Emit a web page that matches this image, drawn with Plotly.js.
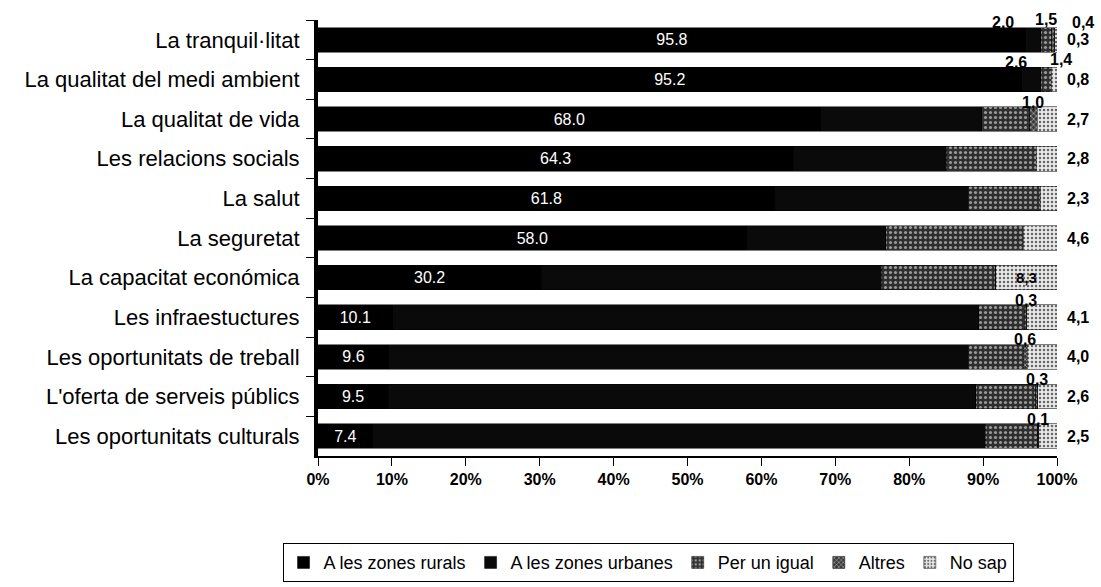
<!DOCTYPE html>
<html>
<head>
<meta charset="utf-8">
<script src="https://cdn.plot.ly/plotly-3.0.1.min.js"></script>
<style>html,body{margin:0;padding:0;background:#fff;}#chart{width:1101px;height:587px;}</style>
</head>
<body>
<div id="chart"></div>
<script>
const categories = ["La tranquil·litat","La qualitat del medi ambient","La qualitat de vida","Les relacions socials","La salut","La seguretat","La capacitat económica","Les infraestuctures","Les oportunitats de treball","L'oferta de serveis públics","Les oportunitats culturals"];
const rurals   = [95.8, 95.2, 68.0, 64.3, 61.8, 58.0, 30.2, 10.1, 9.6, 9.5, 7.4];
const urbanes  = [2.0, 2.6, 21.8, 20.7, 26.2, 18.8, 46.0, 79.3, 78.4, 79.5, 82.9];
const igual    = [1.5, 1.4, 6.5, 12.2, 9.7, 18.6, 15.5, 6.2, 7.4, 8.1, 7.1];
const altres   = [0.4, 0.0, 1.0, 0.0, 0.0, 0.0, 0.0, 0.3, 0.6, 0.3, 0.1];
const noSap    = [0.3, 0.8, 2.7, 2.8, 2.3, 4.6, 8.3, 4.1, 4.0, 2.6, 2.5];
const seriesNames = ["A les zones rurals","A les zones urbanes","Per un igual","Altres","No sap"];
const xTicks = [0,10,20,30,40,50,60,70,80,90,100];
const xTickLabels = ["0%","10%","20%","30%","40%","50%","60%","70%","80%","90%","100%"];

const FONT = "Liberation Sans, Arial, sans-serif";
const comma = v => v.toFixed(1).replace('.', ',');

const traces = [
  {name: seriesNames[0], x: rurals, marker:{color:'#000', line:{color:'#000', width:0.5}},
   texttemplate:'%{x:.1f}', textposition:'inside', insidetextanchor:'middle',
   textfont:{color:'#fff', size:16, family:FONT}, constraintext:'none', textangle:0},
  {name: seriesNames[1], x: urbanes, marker:{color:'#0a0a0a', line:{color:'#000', width:0.5}}, textposition:'none'},
  {name: seriesNames[2], x: igual, marker:{color:'#333', pattern:{shape:'.', bgcolor:'#2e2e2e', fgcolor:'#9a9a9a', size:5, solidity:0.3, fillmode:'replace'}, line:{color:'#000', width:0.5}}, textposition:'none'},
  {name: seriesNames[3], x: altres, marker:{color:'#444', pattern:{shape:'x', bgcolor:'#3a3a3a', fgcolor:'#bbbbbb', size:4, solidity:0.3, fillmode:'replace'}, line:{color:'#000', width:0.5}}, textposition:'none'},
  {name: seriesNames[4], x: noSap, marker:{color:'#ddd', pattern:{shape:'.', bgcolor:'#e8e8e8', fgcolor:'#666666', size:4, solidity:0.3, fillmode:'replace'}, line:{color:'#000', width:0.5}}, textposition:'none'}
].map(t => Object.assign({type:'bar', orientation:'h', y:categories, hoverinfo:'x+name'}, t));

const annotations = [];
categories.forEach((c, i) => {
  const segs = [urbanes, igual, altres];
  let cum = rurals[i];
  const smalls = [];
  segs.forEach(arr => {
    const v = arr[i];
    if (v > 0 && v < 3) smalls.push({x: cum + v / 2, v});
    cum += v;
  });
  smalls.forEach((s, k) => {
    annotations.push({x: s.x, y: c, xref:'x', yref:'y', text: comma(s.v), showarrow:false,
      yshift: 17 + (k === 1 ? 3 : 0), xshift: (k - (smalls.length - 1) / 2) * 30,
      font:{size:16, family:FONT, color:'#000', weight:'bold'}});
  });
  const ns = noSap[i];
  if (ns < 5) {
    annotations.push({x: 100, y: c, xref:'x', yref:'y', text: comma(ns), showarrow:false,
      xanchor:'left', xshift:8, font:{size:16, family:FONT, color:'#000', weight:'bold'}});
  } else {
    annotations.push({x: 100 - ns / 2, y: c, xref:'x', yref:'y', text: comma(ns), showarrow:false,
      font:{size:15, family:FONT, color:'#000', weight:'bold'}});
  }
});

const layout = {
  width:1101, height:587,
  margin:{l:318, r:44, t:20, b:131, autoexpand:false},
  barmode:'stack', bargap:0.38,
  paper_bgcolor:'#fff', plot_bgcolor:'#fff',
  font:{family:FONT, color:'#000'},
  showlegend:true,
  legend:{orientation:'h', x:-0.048, xanchor:'left', y:-0.2, yanchor:'top',
    bordercolor:'#000', borderwidth:1, bgcolor:'#fff',
    font:{size:18, family:FONT, color:'#000'}, traceorder:'normal', itemwidth:30},
  xaxis:{range:[0,100], tickvals:xTicks, ticktext:xTickLabels, ticks:'outside', ticklen:8,
    tickcolor:'#000', showline:true, linecolor:'#000', linewidth:1.5, showgrid:false, zeroline:false,
    tickfont:{size:16, family:FONT, color:'#000', weight:'bold'}, fixedrange:true},
  yaxis:{type:'category', categoryorder:'array', categoryarray:categories, range:[10.5, -0.5], autorange:false,
    ticks:'outside', tickson:'boundaries', ticklen:8, tickcolor:'#000',
    showline:true, linecolor:'#000', linewidth:4, showgrid:false,
    tickfont:{size:22, family:FONT, color:'#000'}, ticklabelstandoff:10, fixedrange:true},
  annotations: annotations
};

Plotly.newPlot('chart', traces, layout, {displayModeBar:false, staticPlot:true});
</script>
</body>
</html>
